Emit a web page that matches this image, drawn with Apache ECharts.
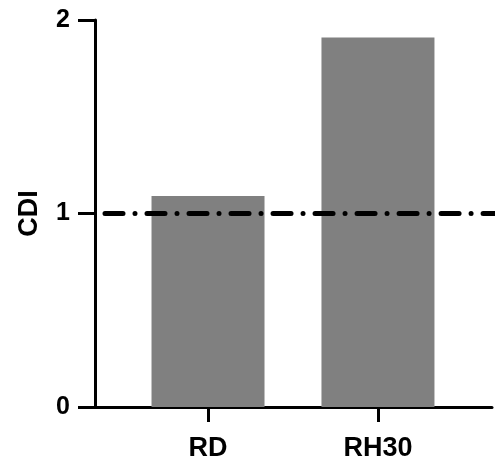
<!DOCTYPE html>
<html><head><meta charset="utf-8">
<script src="https://cdn.jsdelivr.net/npm/echarts@6/dist/echarts.min.js"></script>
<style>html,body{margin:0;padding:0;background:#fff}#c{width:503px;height:462px}</style>
</head><body><div id="c"></div>
<script>
const categories = ['RD', 'RH30'];
const cdiValues = [1.09, 1.91];
const refValue = 1;
const yTicks = [0, 1, 2];

const chart = echarts.init(document.getElementById('c'), null, {renderer: 'canvas'});
const xMin = -0.665, xMax = 1.671;
const barData = categories.map((c, i) => [i, cdiValues[i]]);
const font = 'Liberation Sans, Arial, sans-serif';
chart.setOption({
  animation: false,
  grid: {left: 95, right: 11, top: 20, bottom: 55, containLabel: false},
  xAxis: {
    type: 'value', min: xMin, max: xMax,
    splitLine: {show: false},
    axisLine: {show: true, onZero: false, lineStyle: {color: '#000', width: 3}},
    axisTick: {show: true, customValues: categories.map((c, i) => i), length: 15, lineStyle: {color: '#000', width: 3}},
    axisLabel: {show: true, customValues: categories.map((c, i) => i), formatter: v => categories[Math.round(v)] || '',
      fontSize: 27, fontWeight: 'bold', color: '#000', fontFamily: font, margin: 28}
  },
  yAxis: {
    type: 'value', min: yTicks[0], max: yTicks[yTicks.length - 1], interval: 1,
    name: 'CDI', nameLocation: 'middle', nameRotate: 90, nameGap: 52,
    nameTextStyle: {fontSize: 27, fontWeight: 'bold', color: '#000', fontFamily: font},
    splitLine: {show: false},
    axisLine: {show: true, onZero: false, lineStyle: {color: '#000', width: 3}},
    axisTick: {show: true, length: 17, lineStyle: {color: '#000', width: 3}},
    axisLabel: {fontSize: 25, fontWeight: 'bold', color: '#000', fontFamily: font, margin: 25}
  },
  series: [
    {type: 'bar', data: barData, barWidth: 113, itemStyle: {color: '#808080'}},
    {type: 'line', clip: false, symbol: 'none', z: 5,
      data: [[xMin + 10/170, refValue], [xMax + 12/170, refValue]],
      lineStyle: {color: '#000', width: 5, type: [18, 12, 0.01, 12], cap: 'round'}}
  ]
});
</script></body></html>
